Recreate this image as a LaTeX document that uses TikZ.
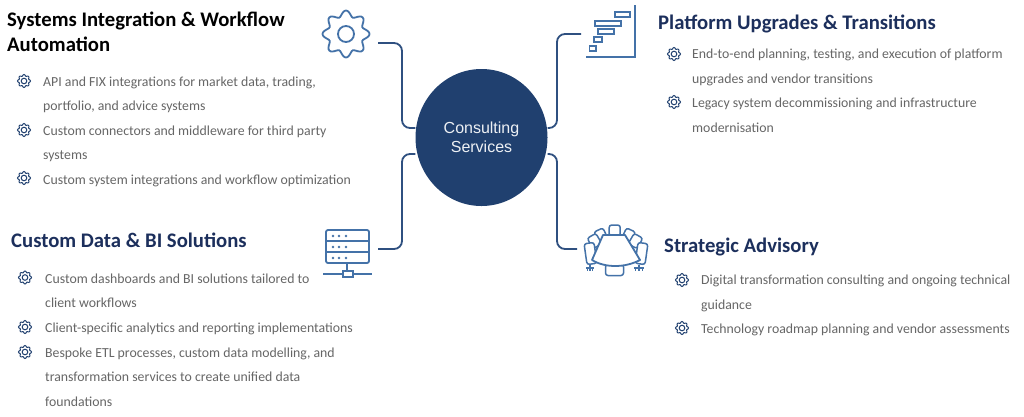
\documentclass[tikz,border=0pt]{standalone}
\usepackage{fontspec}
\usetikzlibrary{backgrounds,shapes.geometric}
\setmainfont{Carlito}
\newfontfamily\arialf{Liberation Sans}
\definecolor{navy}{HTML}{20406F}
\definecolor{conn}{HTML}{2F5080}
\definecolor{icon}{HTML}{4472A8}
\definecolor{body}{HTML}{666666}
\definecolor{head}{HTML}{1C2F5C}
\tikzset{
  x=1pt,y=-1pt,
  connector/.style={draw=conn,line width=1.8pt,rounded corners=8pt},
  iconline/.style={draw=icon,line width=1.8pt},
  hub/.style={ellipse,fill=navy,minimum width=132pt,minimum height=137pt,inner sep=0pt,text=white!92!navy,align=center,font=\arialf\fontsize{16}{19.5}\selectfont},
  title/.style={anchor=north west,inner sep=0pt,align=left,text=head,font=\bfseries\fontsize{20.7}{25}\selectfont,execute at begin node={\rule{0pt}{15pt}}},
  item/.style={anchor=north west,inner sep=0pt,align=left,text=body,font=\fontsize{13.8}{24.5}\selectfont,execute at begin node={\rule{0pt}{10pt}}},
  chair/.style={iconline,line width=1.5pt,fill=white,rounded corners=2.5pt},
  claw/.style={iconline,line width=1.3pt},
  pics/bullet/.style={code={
    \draw[draw=navy,line width=1pt,fill=white] plot[smooth cycle,samples=48,domain=0:352.5] (\x:{5.8+0.7*cos(8*\x)});
    \draw[draw=navy,line width=1pt] (0,0) circle (2.8);
  }},
}
\begin{document}
\begin{tikzpicture}
\useasboundingbox (0,0) rectangle (1024,416);
% hub
\node[hub] (hub) at (481.5,137.5) {Consulting\\Services};
% icon anchors
\coordinate (gearEnd) at (378,43);
\coordinate (ganttEnd) at (581,34);
\coordinate (serverEnd) at (378,249);
\coordinate (tableEnd) at (577,249);
% connectors
\begin{scope}[on background layer]
\fill[white] (0,0) rectangle (1024,416);
\draw[connector] (gearEnd) -| (402,128) -- (hub.west |- 0,128);
\draw[connector] (ganttEnd) -| (557,128) -- (hub.east |- 0,128);
\draw[connector] (serverEnd) -| (402,154) -- (hub.west |- 0,154);
\draw[connector] (tableEnd) -| (557,154) -- (hub.east |- 0,154);
\end{scope}
% gear icon
\begin{scope}[shift={(346,34)}]
\draw[iconline] plot[smooth cycle,samples=96,domain=0:356.25] (\x:{20.6+2.9*cos(8*\x)});
\draw[iconline] (0,0) circle (8);
\end{scope}
% gantt icon
\draw[iconline] (635,5) -- (635,57) -- (586,57);
\foreach \a/\b/\c/\d in {615/12/630/17,595/21/621/26,598/29/614/34,594/37/602/42,589.5/46/596/51}
  \draw[iconline] (\a,\b) rectangle (\c,\d);
% server icon
\draw[iconline,rounded corners=2pt] (326,230) rectangle (369,263);
\draw[iconline] (326,241) -- (369,241) (326,252) -- (369,252);
\foreach \py in {236,247,258}\foreach \px in {333,339,346}
  \fill[icon] (\px,\py) circle (1.4);
\draw[iconline] (347,263) -- (347,271) (323,274) -- (343,274) (353,274) -- (372,274);
\draw[iconline] (343,271) rectangle (353,277);
% table icon
\foreach \cx/\cy/\cw/\ch/\ca in {614.7/230.5/11/11/0,600.7/235/10/11/25,628.7/235/10/11/-25,594.5/241/10/12/30,635.5/241/10/12/-30,590.5/253.5/10/21/8,641.5/253.5/10/21/-8,614.5/270/18/11/0}
  \draw[chair,shift={(\cx,\cy)},rotate=\ca] (-\cw/2,-\ch/2) rectangle (\cw/2,\ch/2);
\draw[iconline,fill=white,line join=round] (603,235) -- (625,235) -- (640,260) .. controls (625,268) and (605,268) .. (592,260) -- cycle;
\draw[claw] (586,268) -- (594,268) (587.5,268) -- (587.5,270.5) (590,265) -- (590,270.5) (592.5,268) -- (592.5,270.5);
\draw[claw] (634,268) -- (644,268) (635.5,268) -- (635.5,270.5) (639,265) -- (639,270.5) (642.5,268) -- (642.5,270.5);
% top-left
\node[title,text=black] (t1) at (7,12) {Systems Integration \& Workflow\\Automation};
\pic at (24,81) {bullet};
\node[item] (a1) at (43,76.5) {API and FIX integrations for market data, trading,\\portfolio, and advice systems};
\pic at (24,130) {bullet};
\node[item] (a2) at (43,125.5) {Custom connectors and middleware for third party\\systems};
\pic at (24,178) {bullet};
\node[item] (a3) at (43,174.5) {Custom system integrations and workflow optimization};
% bottom-left
\node[title] (t2) at (11,232) {Custom Data \& BI Solutions};
\pic at (25,277.5) {bullet};
\node[item] (b1) at (45,273.5) {Custom dashboards and BI solutions tailored to\\client workflows};
\pic at (25,327) {bullet};
\node[item] (b2) at (45,322.5) {Client-specific analytics and reporting implementations};
\pic at (25,352) {bullet};
\node[item] (b3) at (45,347.5) {Bespoke ETL processes, custom data modelling, and\\transformation services to create unified data\\foundations};
% top-right
\node[title] (t3) at (658,14.5) {Platform Upgrades \& Transitions};
\pic at (674,54) {bullet};
\node[item] (c1) at (692,49) {End-to-end planning, testing, and execution of platform\\upgrades and vendor transitions};
\pic at (674,102) {bullet};
\node[item] (c2) at (692,98) {Legacy system decommissioning and infrastructure\\modernisation};
% bottom-right
\node[title] (t4) at (664,237) {Strategic Advisory};
\pic at (682,280) {bullet};
\node[item] (d1) at (701,275) {Digital transformation consulting and ongoing technical\\guidance};
\pic at (682,328) {bullet};
\node[item] (d2) at (701,323) {Technology roadmap planning and vendor assessments};
\end{tikzpicture}
\end{document}
